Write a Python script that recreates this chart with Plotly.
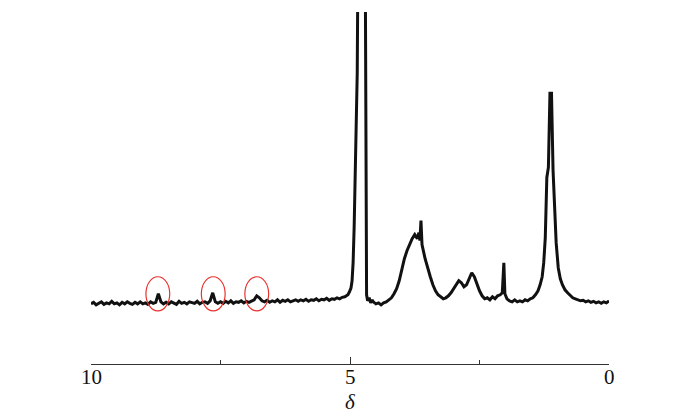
import plotly.graph_objects as go

# chemical shift (ppm) and intensity
baseline_shift = [
    10.00, 9.95, 9.90, 9.85, 9.80, 9.75, 9.70, 9.65, 9.60, 9.55,
    9.50, 9.45, 9.40, 9.35, 9.30, 9.25, 9.20, 9.15, 9.10, 9.05,
    9.00, 8.95, 8.90, 8.85, 8.80, 8.75, 8.70, 8.65, 8.60, 8.55,
    8.50, 8.45, 8.40, 8.35, 8.30, 8.25, 8.20, 8.15, 8.10, 8.05,
    8.00, 7.95, 7.90, 7.85, 7.80, 7.75, 7.70, 7.65, 7.60, 7.55,
    7.50, 7.45, 7.40, 7.35, 7.30, 7.25, 7.20, 7.15, 7.10, 7.05,
    7.00, 6.95, 6.90, 6.85, 6.80, 6.75, 6.70, 6.65, 6.60, 6.55,
    6.50, 6.45, 6.40, 6.35, 6.30, 6.25, 6.20, 6.15, 6.10, 6.05,
    6.00, 5.95, 5.90, 5.85, 5.80, 5.75, 5.70, 5.65, 5.60, 5.55,
    5.50, 5.45, 5.40, 5.35, 5.30, 5.25, 5.20, 5.15, 5.10,
]
baseline_int = [
    -1, 0.5, -2, -0.5, 1, -1.5, 0, -1, 1.5, -1,
    0, -2, 0.5, -1, 1, -0.5, -1.5, 0.5, -1, 1,
    -1, 0, -1.5, 1, -0.5, 0.5, 9, 1, -1, 0.5,
    -1, 1, 0, -1.5, 1.5, -0.5, 0.5, -1, 1, 0,
    -0.5, 1.5, -1, 0.5, 1, -0.5, 2, 10, 1, -0.5,
    1, -0.5, 1.5, 0, 2, -0.5, 1, 0.5, 2, 0,
    1.5, 0.5, 2, 3, 7, 5, 2, 1, 2.5, 0.5,
    2, 1, 3, 0.5, 2.5, 1.5, 3, 1, 2, 3,
    1.5, 3, 2, 3.5, 1.5, 3, 2.5, 4, 2, 3.5,
    3, 4.5, 2.5, 4, 3.5, 5, 4, 5.5, 6,
]

water_shift = [5.07, 5.04, 5.01, 4.98, 4.96, 4.94, 4.92, 4.90, 4.88, 4.86, 4.84,
               4.80, 4.76, 4.73, 4.71, 4.70, 4.69, 4.68, 4.66, 4.63, 4.60, 4.57]
water_int = [7, 8, 11, 15, 22, 40, 75, 120, 160, 230, 400,
             600, 700, 600, 400, 150, 40, 8, 2, 5, 0, 3]

upfield_shift = [
    4.55, 4.50, 4.45, 4.40, 4.35, 4.30, 4.25, 4.20, 4.15, 4.10,
    4.05, 4.00, 3.95, 3.90, 3.85, 3.80, 3.75, 3.70, 3.67, 3.65,
    3.63, 3.61, 3.55, 3.50, 3.45, 3.40, 3.35, 3.30, 3.25, 3.20,
    3.15, 3.10, 3.05, 3.00, 2.95, 2.90, 2.85, 2.80, 2.75, 2.70,
    2.65, 2.60, 2.55, 2.50, 2.45, 2.40, 2.35, 2.30, 2.25, 2.20,
    2.15, 2.10, 2.06, 2.03, 2.01, 1.97, 1.92, 1.87, 1.82, 1.77,
    1.72, 1.67, 1.62, 1.57, 1.52, 1.47, 1.42, 1.37, 1.33, 1.29,
    1.26, 1.23, 1.20, 1.17, 1.14, 1.11, 1.08, 1.05, 1.02, 0.98,
    0.94, 0.90, 0.85, 0.80, 0.75, 0.70, 0.65, 0.60, 0.55, 0.50,
    0.45, 0.40, 0.35, 0.30, 0.25, 0.20, 0.15, 0.10, 0.05, 0.00,
]
upfield_int = [
    1, -1, 0, -2, 0, 1, 3, 5, 9, 14,
    22, 34, 44, 52, 58, 64, 68, 64, 70, 62,
    82, 58, 44, 34, 26, 18, 12, 8, 6, 4,
    5, 7, 10, 14, 18, 22, 20, 16, 18, 24,
    30, 26, 18, 12, 7, 4, 5, 3, 6, 4,
    7, 8, 10, 40, 9, 4, 2, 1, 3, 1,
    2, 1, 3, 2, 4, 5, 8, 12, 18, 26,
    40, 65, 125, 135, 209, 209, 132, 100, 60, 35,
    24, 18, 13, 10, 7, 5, 4, 3, 2, 2.5,
    1, 2, 0.5, 1.5, 0, 1, -0.5, 1, 0, 2,
]

# weak aromatic signals that are circled in red
circled_shift = [8.71, 7.64, 6.80]

tick_vals = [10, 5, 0]
tick_text = ["10", "5", "0"]

shift = baseline_shift + water_shift + upfield_shift
intensity = baseline_int + water_int + upfield_int

serif = "Liberation Serif, Times New Roman, serif"

fig = go.Figure()
fig.add_trace(go.Scatter(
    x=shift, y=intensity,
    mode="lines",
    line=dict(color="#111111", width=3),
    hoverinfo="skip",
    showlegend=False,
))

for c in circled_shift:
    fig.add_shape(type="circle", xref="x", yref="y",
                  x0=c + 0.23, x1=c - 0.23, y0=-8, y1=26,
                  line=dict(color="#e8322e", width=1.2))

fig.update_xaxes(
    range=[10, 0],
    tickvals=tick_vals, showticklabels=False,
    ticks="inside", ticklen=7, tickwidth=1.3, tickcolor="#333333",
    minor=dict(tickvals=[7.5, 2.5], ticks="inside", ticklen=4,
               tickwidth=1.3, tickcolor="#333333"),
    showline=True, linecolor="#333333", linewidth=1.3,
    showgrid=False, zeroline=False, automargin=False,
)
fig.update_yaxes(range=[-61, 290], visible=False)

# tick labels sit tight under the axis line, as in the original figure
for v, t in zip(tick_vals, tick_text):
    fig.add_annotation(x=v, xref="x", y=-0.038, yref="paper",
                       text=t, showarrow=False, yanchor="middle",
                       font=dict(family=serif, size=21, color="#111111"))

fig.add_annotation(x=5, xref="x", y=-0.108, yref="paper",
                   text="<i>δ</i>", showarrow=False, yanchor="middle",
                   font=dict(family=serif, size=21, color="#111111"))

fig.update_layout(
    width=700, height=414,
    plot_bgcolor="white", paper_bgcolor="white",
    margin=dict(l=91, r=91, t=12, b=50),
)

fig.write_html("out.html", config={"displayModeBar": False},
               post_script="document.body.style.margin='0';")
